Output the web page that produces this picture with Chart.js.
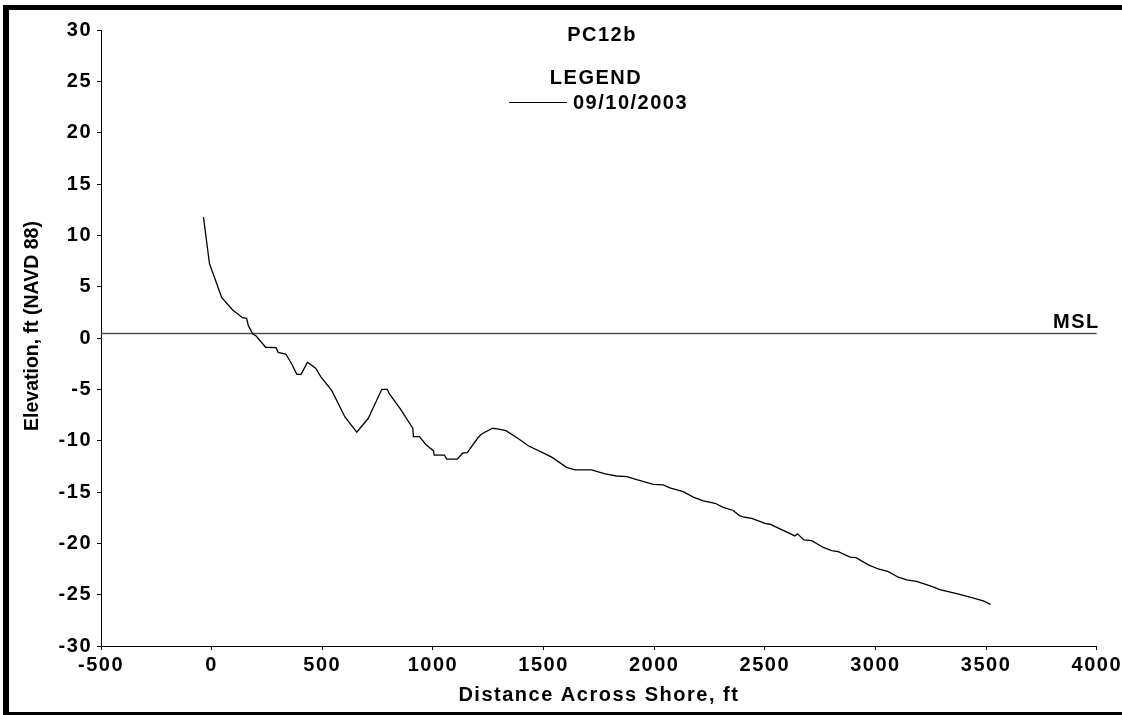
<!DOCTYPE html>
<html><head><meta charset="utf-8">
<script src="https://cdn.jsdelivr.net/npm/chart.js@4.4.1/dist/chart.umd.min.js"></script>
<style>html,body{margin:0;padding:0;background:#fff;overflow:hidden}canvas{display:block}</style>
</head><body>
<canvas id="c" width="1122" height="715"></canvas>
<script>
const chartTitle = 'PC12b';
const legendTitle = 'LEGEND';
const seriesLabel = '09/10/2003';
const xAxisTitle = 'Distance Across Shore, ft';
const yAxisTitle = 'Elevation, ft (NAVD 88)';
const mslLabel = 'MSL';

const distances = [-37, -10, 45, 95, 140, 158, 166, 186, 200, 244, 291, 301, 335, 362, 385, 404, 433, 470, 493, 543, 603, 656, 708, 769, 794, 802, 851, 909, 912, 939, 969, 1002, 1006, 1052, 1062, 1110, 1135, 1155, 1205, 1220, 1270, 1291, 1330, 1390, 1431, 1537, 1604, 1642, 1717, 1778, 1830, 1876, 1921, 1996, 2041, 2071, 2131, 2177, 2222, 2275, 2312, 2357, 2385, 2410, 2441, 2501, 2523, 2636, 2647, 2677, 2712, 2764, 2802, 2832, 2885, 2912, 2968, 3013, 3058, 3103, 3141, 3186, 3254, 3291, 3367, 3427, 3487, 3520];
const elevations = [11.8, 7.27, 3.96, 2.73, 1.98, 1.92, 1.2, 0.39, 0.22, -0.9, -0.94, -1.4, -1.56, -2.53, -3.54, -3.54, -2.37, -2.95, -3.77, -5.13, -7.72, -9.18, -7.82, -5.0, -5.0, -5.39, -6.85, -8.79, -9.6, -9.6, -10.4, -10.97, -11.4, -11.4, -11.8, -11.8, -11.2, -11.17, -9.67, -9.35, -8.79, -8.86, -9.03, -9.86, -10.5, -11.6, -12.6, -12.85, -12.85, -13.24, -13.44, -13.5, -13.8, -14.25, -14.3, -14.6, -14.97, -15.5, -15.87, -16.1, -16.5, -16.8, -17.3, -17.46, -17.56, -18.05, -18.14, -19.28, -19.08, -19.67, -19.74, -20.4, -20.7, -20.8, -21.35, -21.4, -22.1, -22.5, -22.75, -23.3, -23.56, -23.7, -24.2, -24.5, -24.9, -25.25, -25.6, -25.95];

const mslLevel = 0.45;
const mslRange = [-500, 4000];

const xTicks = [-500, 0, 500, 1000, 1500, 2000, 2500, 3000, 3500, 4000];
const yTicks = [-30, -25, -20, -15, -10, -5, 0, 5, 10, 15, 20, 25, 30];

const FONT = '"Liberation Sans", Arial, sans-serif';
const boldFont = {family: FONT, size: 20, weight: 'bold'};

const decor = {
  id: 'decor',
  beforeDraw(chart) {
    const ctx = chart.ctx;
    ctx.save();
    ctx.fillStyle = '#fff';
    ctx.fillRect(0, 0, chart.width, chart.height);
    ctx.fillStyle = '#000';
    ctx.fillRect(3, 5, chart.width - 3, chart.height - 5);
    ctx.fillStyle = '#fff';
    ctx.fillRect(9, 10, chart.width - 9, 702);
    ctx.restore();
    ctx.letterSpacing = '1.5px';
  },
  afterDraw(chart) {
    const ctx = chart.ctx;
    const ca = chart.chartArea;
    ctx.save();
    ctx.letterSpacing = '1.5px';
    ctx.fillStyle = '#000';
    ctx.font = 'bold 20px ' + FONT;
    ctx.textBaseline = 'alphabetic';
    ctx.textAlign = 'center';
    ctx.fillText(chartTitle, 602, 41);
    ctx.fillText(legendTitle, 596, 84);
    ctx.textAlign = 'left';
    ctx.fillText(seriesLabel, 573, 109);
    ctx.strokeStyle = '#000';
    ctx.lineWidth = 1.2;
    ctx.beginPath();
    ctx.moveTo(509, 102.5);
    ctx.lineTo(567, 102.5);
    ctx.stroke();
    const y = chart.scales.y.getPixelForValue(mslLevel);
    ctx.textAlign = 'right';
    ctx.fillText(mslLabel, ca.right + 3, y - 5);
    // vertical axis title
    ctx.letterSpacing = '0px';
    ctx.font = 'bold 19.5px ' + FONT;
    ctx.textAlign = 'center';
    ctx.textBaseline = 'middle';
    ctx.translate(33, 326);
    ctx.rotate(-Math.PI / 2);
    ctx.fillText(yAxisTitle, 0, 0);
    ctx.restore();
  }
};

new Chart(document.getElementById('c'), {
  type: 'line',
  data: {
    datasets: [
      {
        label: seriesLabel,
        data: distances.map((d, i) => ({x: d, y: elevations[i]})),
        borderColor: '#000',
        borderWidth: 1.3,
        pointRadius: 0,
        tension: 0,
        fill: false
      },
      {
        label: mslLabel,
        data: mslRange.map(x => ({x: x, y: mslLevel})),
        borderColor: '#505050',
        borderWidth: 1.5,
        pointRadius: 0,
        tension: 0,
        fill: false
      }
    ]
  },
  options: {
    responsive: false,
    animation: false,
    devicePixelRatio: 1,
    layout: {padding: {left: 0, top: 30, right: 25, bottom: 0}},
    plugins: {legend: {display: false}, title: {display: false}, tooltip: {enabled: false}},
    scales: {
      x: {
        type: 'linear', position: 'bottom', min: -500, max: 4000,
        afterBuildTicks: s => { s.ticks = xTicks.map(v => ({value: v})); },
        afterFit: s => { s.height = 69; },
        grid: {drawOnChartArea: false, drawTicks: true, tickLength: 4, color: '#000'},
        border: {display: true, color: '#000', width: 1},
        ticks: {font: boldFont, color: '#000', padding: 3, maxRotation: 0, autoSkip: false, callback: v => String(v)},
        title: {display: true, text: xAxisTitle, font: boldFont, color: '#000', padding: {top: 0, bottom: 8}}
      },
      y: {
        type: 'linear', position: 'left', min: -30, max: 30,
        afterBuildTicks: s => { s.ticks = yTicks.map(v => ({value: v})); },
        afterFit: s => { s.width = 101; },
        grid: {drawOnChartArea: false, drawTicks: true, tickLength: 4, color: '#000'},
        border: {display: true, color: '#000', width: 1},
        ticks: {font: boldFont, color: '#000', padding: 5, autoSkip: false, callback: v => String(v)},
        title: {display: false}
      }
    }
  },
  plugins: [decor]
});
</script>
</body></html>
